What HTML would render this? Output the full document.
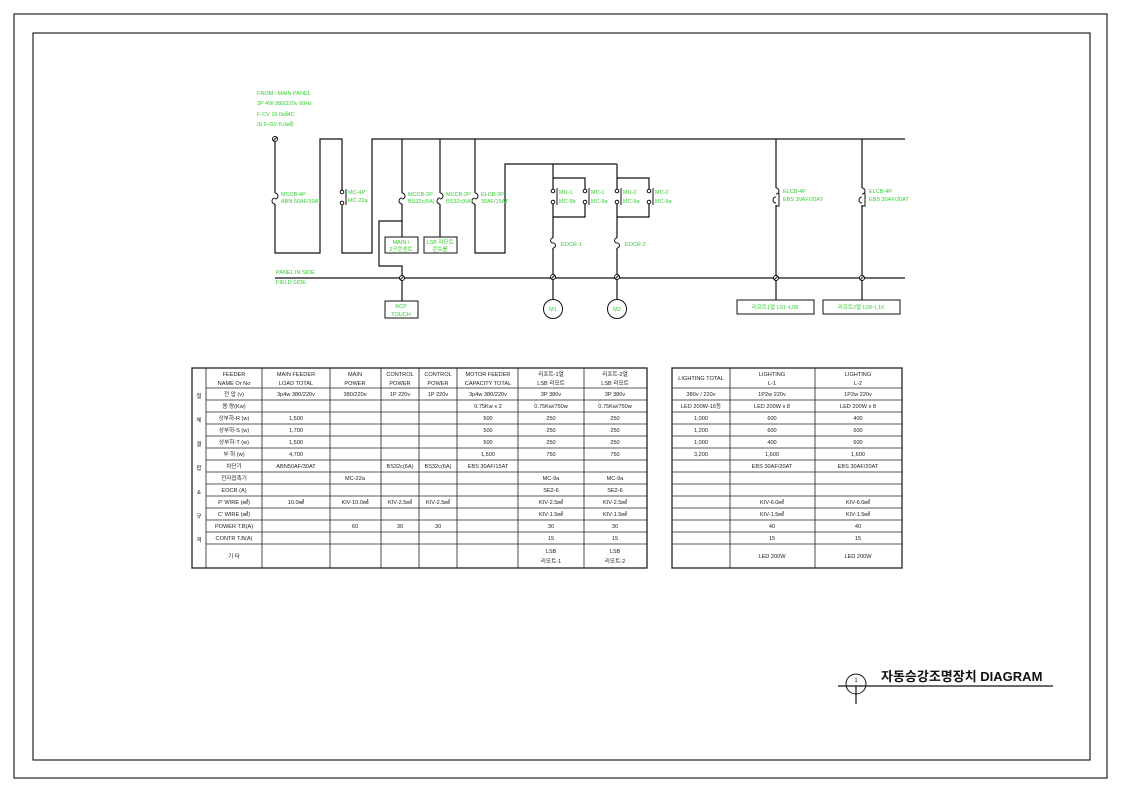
<!DOCTYPE html>
<html><head><meta charset="utf-8"><style>
body{margin:0;background:#fff}
svg{display:block}
text{font-family:"Liberation Sans","Noto Sans CJK KR",sans-serif}
.g{fill:#2fd02f;font-size:5.5px}
.t{fill:#222;font-size:5.6px;text-anchor:middle}
.l{stroke:#111;stroke-width:1.2;fill:none}
.b{stroke:#111;stroke-width:1;fill:#fff}
</style></head><body>
<svg width="1122" height="793" viewBox="0 0 1122 793">
<rect x="14" y="14" width="1093" height="764" fill="none" stroke="#222" stroke-width="1.2"/>
<rect x="33" y="33" width="1057" height="727" fill="none" stroke="#222" stroke-width="1.2"/>

<!-- header text -->
<text class="g" x="257" y="95">FROM : MAIN PANEL</text>
<text class="g" x="257" y="105">3P 4W 380/220v 60Hz</text>
<text class="g" x="257" y="116">F-CV 10.0㎟4C</text>
<text class="g" x="257" y="126">(E F-GV 6.0㎟)</text>

<g class="l">
<path d="M275 139 V253 H320 V139 H342 V253 H372 V139 H905"/>
<path d="M275 278 H905"/>
<path d="M402 139 V237 M440 139 V237 M475 139 V253 H505 V164 H617"/>
<path d="M402 221 H379 V266 H402 V301"/>
<path d="M553 164 V300 M617 164 V300"/>
<path d="M553 178 H585 V217 H553 M617 178 H649 V217 H617"/>
<path d="M776 139 V300 M862 139 V300"/>
</g>
<!-- breaker symbols -->
<g fill="#fff" stroke="#111" stroke-width="1">
<rect x="270" y="193" width="9" height="11" stroke="none"/>
<path d="M275 193 a3 3 0 0 1 0 6 M275 198 a3 3 0 0 0 0 6" fill="none"/>
<rect x="337" y="191" width="9" height="14" stroke="none"/>
<circle cx="342" cy="192" r="1.8"/><circle cx="342" cy="203" r="1.8"/>
<path d="M346 189 V205" fill="none"/>
<rect x="397" y="193" width="9" height="11" stroke="none"/>
<path d="M402 193 a3 3 0 0 1 0 6 M402 198 a3 3 0 0 0 0 6" fill="none"/>
<rect x="435" y="193" width="9" height="11" stroke="none"/>
<path d="M440 193 a3 3 0 0 1 0 6 M440 198 a3 3 0 0 0 0 6" fill="none"/>
<rect x="470" y="193" width="9" height="11" stroke="none"/>
<path d="M475 193 a3 3 0 0 1 0 6 M475 198 a3 3 0 0 0 0 6" fill="none"/>
<rect x="548" y="189" width="42" height="15" stroke="none"/>
<circle cx="553" cy="191" r="1.8"/><circle cx="553" cy="202" r="1.8"/>
<circle cx="585" cy="191" r="1.8"/><circle cx="585" cy="202" r="1.8"/>
<path d="M557 188 V205 M589 188 V205" fill="none"/>
<rect x="612" y="189" width="42" height="15" stroke="none"/>
<circle cx="617" cy="191" r="1.8"/><circle cx="617" cy="202" r="1.8"/>
<circle cx="649" cy="191" r="1.8"/><circle cx="649" cy="202" r="1.8"/>
<path d="M621 188 V205 M653 188 V205" fill="none"/>
<rect x="549" y="238" width="8" height="10" stroke="none"/>
<path d="M553 238 a2.5 2.5 0 0 0 0 5 M553 243 a2.5 2.5 0 0 1 0 5" fill="none"/>
<rect x="613" y="238" width="8" height="10" stroke="none"/>
<path d="M617 238 a2.5 2.5 0 0 0 0 5 M617 243 a2.5 2.5 0 0 1 0 5" fill="none"/>
<rect x="771" y="188" width="10" height="17" stroke="none"/>
<path d="M776 188 a3 3 0 0 1 0 6 M776 197 a3 3 0 0 0 0 6 M779 193 V206 H776" fill="none"/>
<rect x="857" y="188" width="10" height="17" stroke="none"/>
<path d="M862 188 a3 3 0 0 1 0 6 M862 197 a3 3 0 0 0 0 6 M865 193 V206 H862" fill="none"/>
<!-- terminals -->
<circle cx="275" cy="139" r="2.5"/><path d="M273 141 L277 137"/>
<circle cx="402" cy="278" r="2.5"/><path d="M400 280 L404 276"/>
<circle cx="553" cy="277" r="2.5"/><path d="M551 279 L555 275"/>
<circle cx="617" cy="277" r="2.5"/><path d="M615 279 L619 275"/>
<circle cx="776" cy="278" r="2.5"/><path d="M774 280 L778 276"/>
<circle cx="862" cy="278" r="2.5"/><path d="M860 280 L864 276"/>
<circle cx="553" cy="309" r="9.5"/><circle cx="617" cy="309" r="9.5"/>
</g>
<g class="b">
<rect x="385" y="237" width="33" height="16"/>
<rect x="424" y="237" width="33" height="16"/>
<rect x="385" y="301" width="33" height="17"/>
<rect x="737" y="300" width="77" height="14"/>
<rect x="823" y="300" width="77" height="14"/>
</g>
<text class="g" x="281" y="196">MCCB-4P</text><text class="g" x="281" y="203">ABN 50AF/30AT</text>
<text class="g" x="348" y="194">MC-4P</text><text class="g" x="348" y="202">MC-22a</text>
<text class="g" x="408" y="196">MCCB-2P</text><text class="g" x="408" y="203">BS32c(6A)</text>
<text class="g" x="446" y="196">MCCB-2P</text><text class="g" x="446" y="203">BS32c(6A)</text>
<text class="g" x="481" y="196">ELCB-3P</text><text class="g" x="481" y="203">30AF/15AT</text>
<text class="g" x="559" y="194">MU-1</text><text class="g" x="559" y="203">MC-9b</text>
<text class="g" x="591" y="194">MC-1</text><text class="g" x="591" y="203">MC-9a</text>
<text class="g" x="623" y="194">MU-2</text><text class="g" x="623" y="203">MC-9a</text>
<text class="g" x="655" y="194">MC-2</text><text class="g" x="655" y="203">MC-9a</text>
<text class="g" x="561" y="246">EOCR-1</text><text class="g" x="625" y="246">EOCR-2</text>
<text class="g" x="783" y="193">ELCB-4P</text><text class="g" x="783" y="201">EBS 30AF/20AT</text>
<text class="g" x="869" y="193">ELCB-4P</text><text class="g" x="869" y="201">EBS 30AF/20AT</text>
<text class="g" x="276" y="274">PANEL IN SIDE</text><text class="g" x="276" y="284">FIELD SIDE</text>
<g class="g" text-anchor="middle">
<text x="401" y="244">MAIN /</text><text x="401" y="251">2구콘센트</text>
<text x="440" y="244">LSB 리모트</text><text x="440" y="251">콘트롤</text>
<text x="401" y="308">RCP</text><text x="401" y="316">TOUCH</text>
<text x="553" y="311">M1</text><text x="617" y="311">M2</text>
<text x="775" y="309">리프트1열 L01~L08</text><text x="861" y="309">리프트2열 L09~L16</text>
</g>

<!-- left table -->
<g stroke="#222" stroke-width="0.8" fill="none">
<rect x="192" y="368" width="455" height="200" stroke-width="1.3"/>
<rect x="672" y="368" width="230" height="200" stroke-width="1.3"/>
<path d="M206 368V568 M262 368V568 M330 368V568 M381 368V568 M419 368V568 M457 368V568 M518 368V568 M584 368V568 M730 368V568 M815 368V568"/>
<path d="M206 388H647 M206 400H647 M206 412H647 M206 424H647 M206 436H647 M206 448H647 M206 460H647 M206 472H647 M206 484H647 M206 496H647 M206 508H647 M206 520H647 M206 532H647 M206 544H647"/>
<path d="M672 388H902 M672 400H902 M672 412H902 M672 424H902 M672 436H902 M672 448H902 M672 460H902 M672 472H902 M672 484H902 M672 496H902 M672 508H902 M672 520H902 M672 532H902 M672 544H902"/>
</g>
<g class="t">
<text x="199" y="398">절</text><text x="199" y="422">체</text><text x="199" y="446">결</text><text x="199" y="470">합</text><text x="199" y="494">&amp;</text><text x="199" y="518">규</text><text x="199" y="542">격</text>
<text x="234" y="376">FEEDER</text><text x="234" y="385">NAME Or No</text>
<text x="296" y="376">MAIN FEEDER</text><text x="296" y="385">LOAD TOTAL</text>
<text x="355" y="376">MAIN</text><text x="355" y="385">POWER</text>
<text x="400" y="376">CONTROL</text><text x="400" y="385">POWER</text>
<text x="438" y="376">CONTROL</text><text x="438" y="385">POWER</text>
<text x="488" y="376">MOTOR FEEDER</text><text x="488" y="385">CAPACITY TOTAL</text>
<text x="551" y="376">리프트-1열</text><text x="551" y="385">LSB 리모트</text>
<text x="615" y="376">리프트-2열</text><text x="615" y="385">LSB 리모트</text>
<text x="234" y="396">전 압 (v)</text><text x="234" y="408">용 량(Kw)</text><text x="234" y="420">상부하-R (w)</text><text x="234" y="432">상부하-S (w)</text><text x="234" y="444">상부하-T (w)</text><text x="234" y="456">부 하 (w)</text><text x="234" y="468">차단기</text><text x="234" y="480">전자접촉기</text><text x="234" y="492">EOCR (A)</text><text x="234" y="504">P' WIRE (㎟)</text><text x="234" y="516">C' WIRE (㎟)</text><text x="234" y="528">POWER T.B(A)</text><text x="234" y="540">CONTR T.B(A)</text><text x="234" y="558">기 타</text>
<text x="296" y="396">3p4w 380/220v</text><text x="296" y="420">1,500</text><text x="296" y="432">1,700</text><text x="296" y="444">1,500</text><text x="296" y="456">4,700</text><text x="296" y="468">ABN50AF/30AT</text><text x="296" y="504">10.0㎟</text>
<text x="355" y="396">380/220v</text><text x="355" y="480">MC-22a</text><text x="355" y="504">KIV-10.0㎟</text><text x="355" y="528">60</text>
<text x="400" y="396">1P 220v</text><text x="400" y="468">BS32c(6A)</text><text x="400" y="504">KIV-2.5㎟</text><text x="400" y="528">30</text>
<text x="438" y="396">1P 220v</text><text x="438" y="468">BS32c(6A)</text><text x="438" y="504">KIV-2.5㎟</text><text x="438" y="528">30</text>
<text x="488" y="396">3p4w 380/220v</text><text x="488" y="408">0.75Kw x 2</text><text x="488" y="420">500</text><text x="488" y="432">500</text><text x="488" y="444">500</text><text x="488" y="456">1,500</text><text x="488" y="468">EBS 30AF/15AT</text>
<text x="551" y="396">3P 380v</text><text x="551" y="408">0.75Kw/750w</text><text x="551" y="420">250</text><text x="551" y="432">250</text><text x="551" y="444">250</text><text x="551" y="456">750</text><text x="551" y="480">MC-9a</text><text x="551" y="492">SE2-6</text><text x="551" y="504">KIV-2.5㎟</text><text x="551" y="516">KIV-1.5㎟</text><text x="551" y="528">30</text><text x="551" y="540">15</text><text x="551" y="553">LSB</text><text x="551" y="563">리모트-1</text>
<text x="615" y="396">3P 380v</text><text x="615" y="408">0.75Kw/750w</text><text x="615" y="420">250</text><text x="615" y="432">250</text><text x="615" y="444">250</text><text x="615" y="456">750</text><text x="615" y="480">MC-9a</text><text x="615" y="492">SE2-6</text><text x="615" y="504">KIV-2.5㎟</text><text x="615" y="516">KIV-1.5㎟</text><text x="615" y="528">30</text><text x="615" y="540">15</text><text x="615" y="553">LSB</text><text x="615" y="563">리모트-2</text>
<text x="701" y="380">LIGHTING TOTAL</text>
<text x="772" y="376">LIGHTING</text><text x="772" y="385">L-1</text>
<text x="858" y="376">LIGHTING</text><text x="858" y="385">L-2</text>
<text x="701" y="396">380v / 220v</text><text x="701" y="408">LED 200W-16등</text><text x="701" y="420">1,000</text><text x="701" y="432">1,200</text><text x="701" y="444">1,000</text><text x="701" y="456">3,200</text>
<text x="772" y="396">1P2w 220v</text><text x="772" y="408">LED 200W x 8</text><text x="772" y="420">600</text><text x="772" y="432">600</text><text x="772" y="444">400</text><text x="772" y="456">1,600</text><text x="772" y="468">EBS 30AF/20AT</text><text x="772" y="504">KIV-6.0㎟</text><text x="772" y="516">KIV-1.5㎟</text><text x="772" y="528">40</text><text x="772" y="540">15</text><text x="772" y="558">LED 200W</text>
<text x="858" y="396">1P2w 220v</text><text x="858" y="408">LED 200W x 8</text><text x="858" y="420">400</text><text x="858" y="432">600</text><text x="858" y="444">600</text><text x="858" y="456">1,600</text><text x="858" y="468">EBS 30AF/20AT</text><text x="858" y="504">KIV-6.0㎟</text><text x="858" y="516">KIV-1.5㎟</text><text x="858" y="528">40</text><text x="858" y="540">15</text><text x="858" y="558">LED 200W</text>
</g>

<!-- title -->
<circle cx="856" cy="684" r="10" fill="none" stroke="#111" stroke-width="1"/>
<path d="M838 686 H1053 M856 686 V704" stroke="#111" stroke-width="1.2"/>
<text x="856" y="682" font-size="6" text-anchor="middle" fill="#222">1</text>
<text x="881" y="681" font-size="13" font-weight="bold" fill="#111">자동승강조명장치 DIAGRAM</text>
</svg>
</body></html>
